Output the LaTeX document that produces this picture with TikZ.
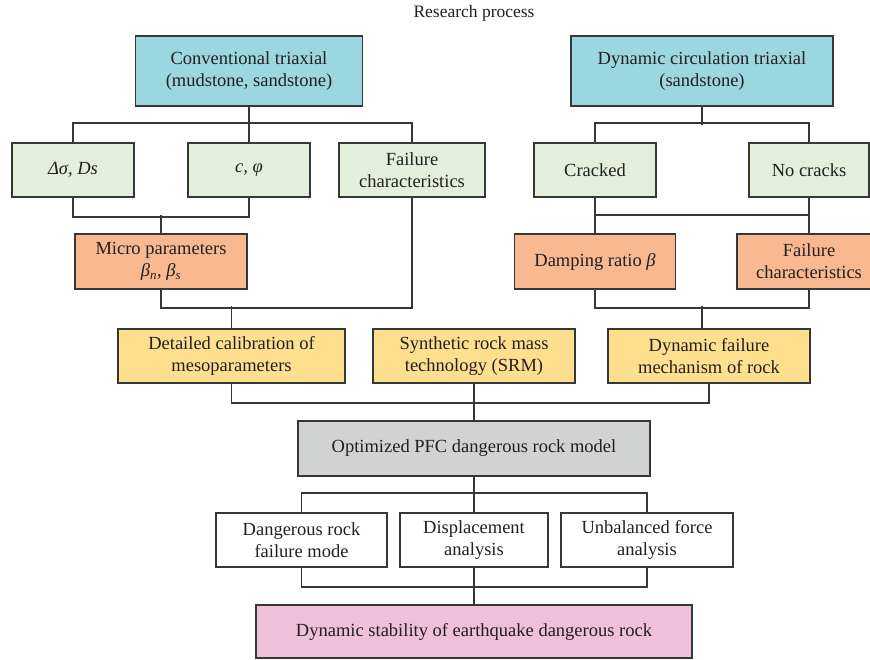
\documentclass[tikz,border=0pt]{standalone}
\usepackage{fontspec}
\setmainfont{Liberation Serif}
\usepackage{xcolor}
\usepackage{tikz}
\usetikzlibrary{positioning}
\definecolor{linegray}{RGB}{55, 55, 55}
\definecolor{textgray}{RGB}{35, 31, 32}
\definecolor{testblue}{RGB}{155, 215, 224}
\definecolor{resgreen}{RGB}{227, 239, 218}
\definecolor{parorange}{RGB}{248, 185, 144}
\definecolor{methyellow}{RGB}{254, 223, 142}
\definecolor{modelgray}{RGB}{209, 211, 210}
\definecolor{goalpink}{RGB}{238, 192, 218}

\begin{document}
\begin{tikzpicture}[
  x=1pt, y=-1pt,
  box/.style={draw=linegray, line width=1.6pt, minimum height=54pt, inner sep=2pt, align=center, text=textgray, font=\fontsize{18.5}{22}\selectfont},
  testbox/.style={box, fill=testblue, minimum height=70pt},
  resultbox/.style={box, fill=resgreen},
  parambox/.style={box, fill=parorange, minimum height=55pt},
  methodbox/.style={box, fill=methyellow},
  modelbox/.style={box, fill=modelgray, minimum height=55pt},
  analysisbox/.style={box, fill=white},
  goalbox/.style={box, fill=goalpink, minimum height=53pt},
  link/.style={draw=linegray, line width=1.6pt}
]
  \path[use as bounding box, clip] (0,0) rectangle (870,659);

  \node[text=textgray, font=\fontsize{17.5}{20}\selectfont] (title) at (474,13) {Research process};

  % Tests
  \node[testbox, minimum width=227pt] (conv)    at (249,71) {Conventional triaxial\\(mudstone, sandstone)};
  \node[testbox, minimum width=262pt] (dyncirc) at (702,71) {Dynamic circulation triaxial\\(sandstone)};

  % Test results
  \node[resultbox, minimum width=122pt] (dsig)  at (73,170)  {\itshape Δσ, Ds};
  \node[resultbox, minimum width=122pt] (cphi)  at (249,170) {\itshape c, φ};
  \node[resultbox, minimum width=146pt] (fail1) at (412,170) {Failure\\characteristics};
  \node[resultbox, minimum width=122pt] (crk)   at (595,170) {Cracked};
  \node[resultbox, minimum width=120pt] (nocrk) at (809,170) {No cracks};

  % Parameters
  \node[parambox, minimum width=172pt] (micro) at (161,261.5) {Micro parameters\\{\itshape β}\textsubscript{\itshape n}, {\itshape β}\textsubscript{\itshape s}};
  \node[parambox, minimum width=161pt] (damp)  at (595,261.5) {Damping ratio {\itshape β}};
  \node[parambox, minimum width=144pt] (fail2) at (809,261.5) {Failure\\characteristics};

  % Methods
  \node[methodbox, minimum width=227pt] (calib)   at (231.5,356) {Detailed calibration of\\mesoparameters};
  \node[methodbox, minimum width=202pt] (srm)     at (474,356)   {Synthetic rock mass\\technology (SRM)};
  \node[methodbox, minimum width=202pt] (dynfail) at (709,356)   {Dynamic failure\\mechanism of rock};

  % Model and analysis
  \node[modelbox, minimum width=352pt] (opt) at (474,448.5) {Optimized PFC dangerous rock model};
  \node[analysisbox, minimum width=171pt] (dang)  at (301.5,540) {Dangerous rock\\failure mode};
  \node[analysisbox, minimum width=148pt] (disp)  at (474,540)   {Displacement\\analysis};
  \node[analysisbox, minimum width=172pt] (unbal) at (647,540)   {Unbalanced force\\analysis};
  \node[goalbox, minimum width=436pt] (goal) at (474,631.5) {Dynamic stability of earthquake dangerous rock};

  % Tests to results
  \draw[link] (conv.south) -- (cphi.north);
  \draw[link] (dsig.north) -- ++(0,-19) -| (fail1.north);
  \draw[link] (dyncirc.south) -- ++(0,18);
  \draw[link] (crk.north) -- ++(0,-19) -| (nocrk.north);

  % Results to parameters
  \draw[link] (dsig.south) -- ++(0,19) -| (cphi.south);
  \draw[link] (micro.north) -- ++(0,-18);
  \draw[link] (crk.south) -- (damp.north);
  \draw[link] (nocrk.south) -- (fail2.north);
  \draw[link] (damp.north) -- ++(0,-18) -| (nocrk.south);

  % Parameters to methods
  \draw[link] (micro.south) -- ++(0,18) -| (fail1.south);
  \draw[link] (calib.north) -- ++(0,-22);
  \draw[link] (damp.south) -- ++(0,18) -| (fail2.south);
  \draw[link] (dyncirc.south |- dynfail.north) -- ++(0,-22);

  % Methods to model
  \draw[link] (calib.south) -- ++(0,19) -| (dynfail.south);
  \draw[link] (srm.south) -- (opt.north);

  % Model to analysis
  \draw[link] (opt.south) -- (disp.north);
  \draw[link] (dang.north) -- ++(0,-19) -| (unbal.north);
  \draw[link] (dang.south) -- ++(0,19) -| (unbal.south);
  \draw[link] (disp.south) -- (goal.north);
\end{tikzpicture}
\end{document}
